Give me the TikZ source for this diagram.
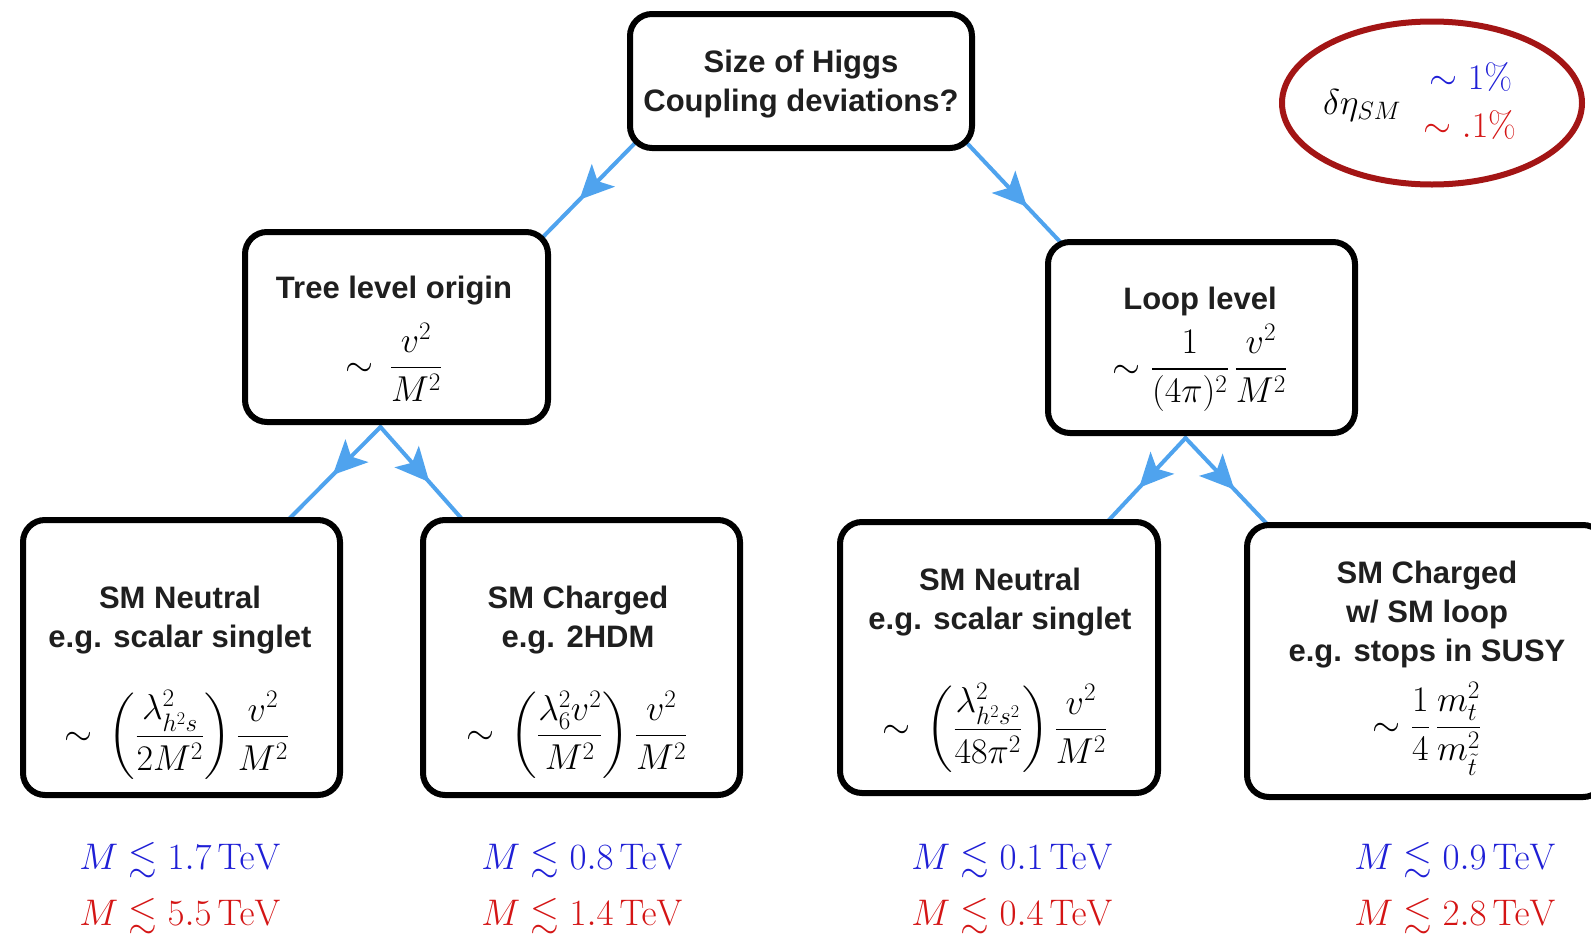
\RequirePackage{fix-cm}
\documentclass[tikz,border=0pt]{standalone}
\usepackage{amsmath,amssymb}
\usepackage[no-math]{fontspec}
\newfontfamily\hv{Liberation Sans}
\usetikzlibrary{arrows.meta,decorations.markings,calc,shapes.geometric,backgrounds}
\definecolor{arrblue}{HTML}{4FA3EE}
\definecolor{lblue}{HTML}{1F1FD6}
\definecolor{lred}{HTML}{D41515}
\definecolor{ellred}{HTML}{A31515}
\begin{document}
\begin{tikzpicture}[x=1pt,y=-1pt,
  box/.style={draw=black, line width=6pt, rounded corners=22pt, fill=white, inner sep=0pt},
  sans/.style={font=\hv\bfseries\fontsize{31}{39}\selectfont, align=center, inner sep=0pt, text=black!88},
  mth/.style={font=\fontsize{36}{43}\selectfont, inner sep=0pt},
  lim/.style={font=\fontsize{37}{44}\selectfont, inner sep=0pt},
  flow/.style={color=arrblue, line width=4pt, line cap=round, postaction={decorate},
    decoration={markings, mark=at position #1 with {\arrow{Stealth[length=34pt,width=32pt,inset=8pt]}}}},
  flow/.default=0.6
]
\useasboundingbox (0,0) rectangle (1591,935);
\clip (0,0) rectangle (1591,935);

% boxes
\node[box, minimum width=342pt, minimum height=134pt] (top) at (801,81) {};
\node[box, minimum width=303pt, minimum height=190pt] (tree) at (396.5,327) {};
\node[box, minimum width=307pt, minimum height=191pt] (loop) at (1201.5,337.5) {};
\node[box, minimum width=317pt, minimum height=275pt] (b1) at (181.5,657.5) {};
\node[box, minimum width=317pt, minimum height=275pt] (b2) at (581.5,657.5) {};
\node[box, minimum width=318pt, minimum height=271pt] (b3) at (999,657.5) {};
\node[box, minimum width=358pt, minimum height=272pt] (b4) at (1426,661) {};

% ellipse
\node[ellipse, draw=ellred, line width=6pt, minimum width=300pt, minimum height=163pt] (ell) at (1432,103) {};
\node[mth] (eta) at (1362,105) {$\delta\eta_{SM}$};
\node[mth, text=lblue] (one) at (1471,77) {$\sim 1\%$};
\node[mth, text=lred] (pone) at (1470,125) {$\sim .1\%$};

% texts
\node[sans] (ttop) at (801,84) {Size of Higgs\\Coupling deviations?};
\node[sans] (ttree) at (394,291) {Tree level origin};
\node[mth] (mtree) at (394,362) {$\displaystyle \sim\,\frac{v^2}{M^2}$};
\node[sans] (tloop) at (1200,301) {Loop level};
\node[mth] (mloop) at (1200,368) {$\displaystyle \sim \frac{1}{(4\pi)^2}\,\frac{v^2}{M^2}$};
\node[sans] (t1) at (180,620) {SM Neutral\\e.g. scalar singlet};
\node[mth] (m1) at (177,735) {$\displaystyle \sim \,\biggl(\frac{\lambda^2_{h^2 s}}{2M^2}\biggr)\,\frac{v^2}{M^2}$};
\node[sans] (t2) at (578,620) {SM Charged\\e.g. 2HDM};
\node[mth] (m2) at (577,735) {$\displaystyle \sim \,\biggl(\frac{\lambda^2_6 v^2}{M^2}\biggr)\,\frac{v^2}{M^2}$};
\node[sans] (t3) at (1000,602) {SM Neutral\\e.g. scalar singlet};
\node[mth] (m3) at (995,728) {$\displaystyle \sim \,\biggl(\frac{\lambda^2_{h^2 s^2}}{48\pi^2}\biggr)\,\frac{v^2}{M^2}$};
\node[sans] (t4) at (1427,615) {SM Charged\\w/ SM loop\\e.g. stops in SUSY};
\node[mth] (m4) at (1427,729) {$\displaystyle \sim \frac{1}{4}\,\frac{m_t^2}{m_{\tilde t}^2}$};

% bottom limits
\node[lim, text=lblue] (l1b) at (180,860) {$M \lesssim 1.7\,\mathrm{TeV}$};
\node[lim, text=lred]  (l1r) at (180,916) {$M \lesssim 5.5\,\mathrm{TeV}$};
\node[lim, text=lblue] (l2b) at (582,860) {$M \lesssim 0.8\,\mathrm{TeV}$};
\node[lim, text=lred]  (l2r) at (582,916) {$M \lesssim 1.4\,\mathrm{TeV}$};
\node[lim, text=lblue] (l3b) at (1012,860) {$M \lesssim 0.1\,\mathrm{TeV}$};
\node[lim, text=lred]  (l3r) at (1012,916) {$M \lesssim 0.4\,\mathrm{TeV}$};
\node[lim, text=lblue] (l4b) at (1455,860) {$M \lesssim 0.9\,\mathrm{TeV}$};
\node[lim, text=lred]  (l4r) at (1455,916) {$M \lesssim 2.8\,\mathrm{TeV}$};

% arrows (behind boxes)
\begin{pgfonlayer}{background}
\coordinate (ta) at ($(tree.south)+(-16,2)$);
\coordinate (la) at ($(loop.south)+(-16,2)$);
\draw[flow=0.6] ($(top.south west)+(10,-10)$) -- ($(tree.north east)+(-10,10)$);
\draw[flow=0.62] ($(top.south east)+(-10,-10)$) -- ($(loop.north west)+(20,8)$);
\draw[flow=0.5] (ta) -- ($(b1.north east)+(-58,6)$);
\draw[flow=0.6] (ta) -- ($(b2.north west)+(42,2)$);
\draw[flow=0.6] (la) -- ($(b3.north east)+(-53,2)$);
\draw[flow=0.6] (la) -- ($(b4.north west)+(23,2)$);
\end{pgfonlayer}
\end{tikzpicture}
\end{document}
